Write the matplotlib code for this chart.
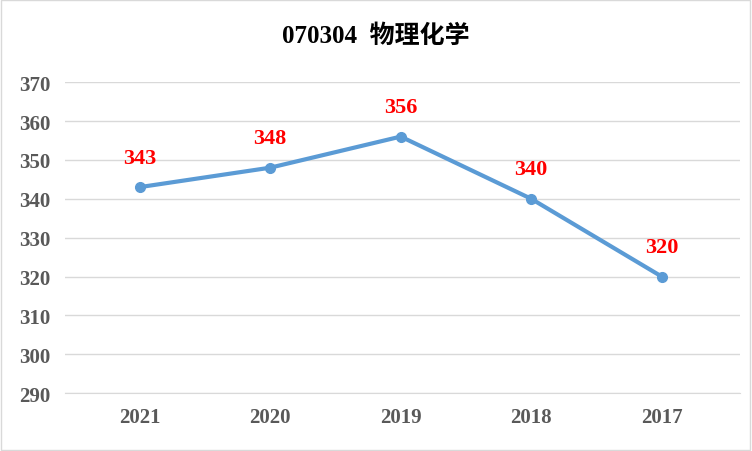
import matplotlib.pyplot as plt
from matplotlib.patches import Rectangle

years = ['2021', '2020', '2019', '2018', '2017']
scores = [343, 348, 356, 340, 320]
title = '070304  物理化学'

plt.rcParams['font.family'] = ['Liberation Serif', 'Noto Sans CJK SC']

fig = plt.figure(figsize=(7.52, 4.52), dpi=100)
ax = fig.add_axes([0.086, 0.128, 0.898, 0.688])

x = range(len(years))
ax.plot(x, scores, color='#5B9BD5', linewidth=3, marker='o', markersize=7, zorder=3)
for i, v in zip(x, scores):
    ax.annotate(str(v), (i, v), xytext=(0, 14), textcoords='offset points',
                ha='center', va='bottom', color='red', fontsize=16, fontweight='bold')

ax.set_xlim(-0.575, 4.6)
ax.set_ylim(290, 370)
ax.set_yticks(range(290, 371, 10))
ax.set_xticks(list(x))
ax.set_xticklabels(years)
ax.grid(axis='y', color='#D9D9D9', linewidth=1)
ax.set_axisbelow(True)
for s in ['top', 'right', 'left']:
    ax.spines[s].set_visible(False)
ax.spines['bottom'].set_color('#D9D9D9')
ax.tick_params(length=0, labelsize=15, labelcolor='#595959', pad=10)
for lab in ax.get_xticklabels() + ax.get_yticklabels():
    lab.set_fontweight('bold')

fig.text(0.5, 0.92, title, ha='center', va='center', fontsize=18, fontweight='bold',
         family=['Liberation Serif', 'Noto Sans CJK SC'])
fig.patches.append(Rectangle((0.001, 0.002), 0.997, 0.996, transform=fig.transFigure,
                             fill=False, edgecolor='#D9D9D9', linewidth=1))

fig.savefig('out.png', dpi=100)
